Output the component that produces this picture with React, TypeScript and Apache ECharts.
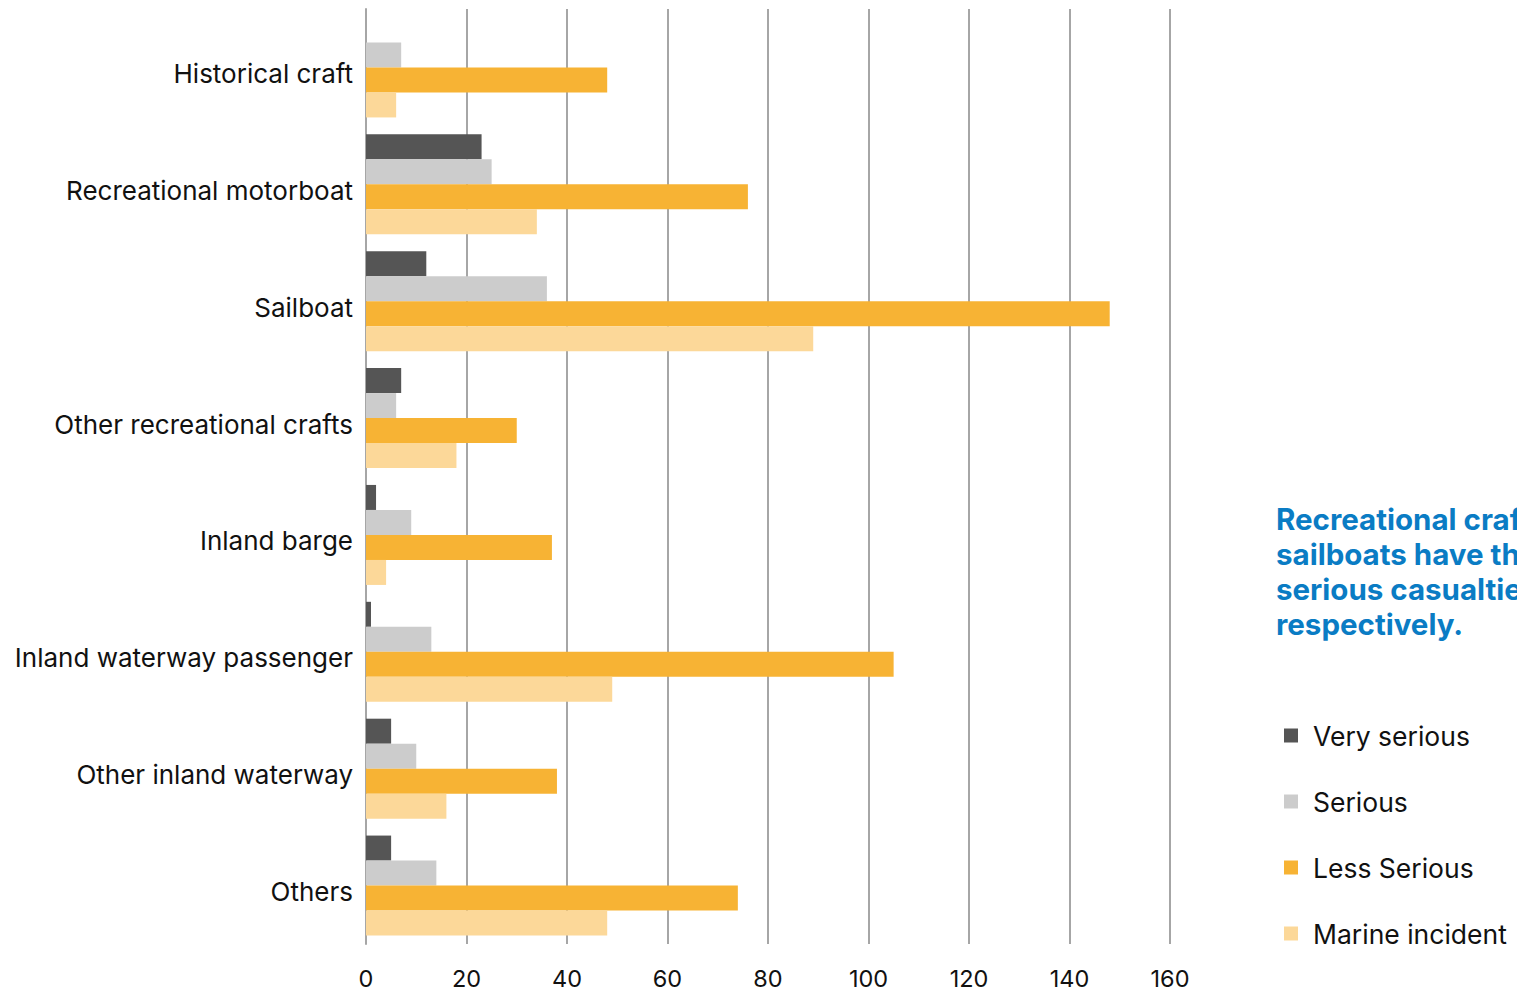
import React, { useEffect, useRef } from "react";
import * as echarts from "echarts";

const categories = [
  "Historical craft",
  "Recreational motorboat",
  "Sailboat",
  "Other recreational crafts",
  "Inland barge",
  "Inland waterway passenger",
  "Other inland waterway",
  "Others",
];
const verySerious = [0, 23, 12, 7, 2, 1, 5, 5];
const serious = [7, 25, 36, 6, 9, 13, 10, 14];
const lessSerious = [48, 76, 148, 30, 37, 105, 38, 74];
const marineIncident = [6, 34, 89, 18, 4, 49, 16, 48];
const seriesNames = ["Very serious", "Serious", "Less Serious", "Marine incident"];
const seriesColors = ["#555555", "#CCCCCC", "#F7B334", "#FCD899"];
const noteLines = [
  "Recreational crafts and",
  "sailboats have the most",
  "serious casualties,",
  "respectively.",
];

export default function App() {
  const ref = useRef<HTMLDivElement>(null);
  useEffect(() => {
    if (!ref.current) return;
    const chart = echarts.init(ref.current, undefined, { renderer: "svg" });
    const values = [verySerious, serious, lessSerious, marineIncident];
    chart.setOption({
      animation: false,
      grid: { left: 366, right: 347, top: 9, bottom: 48, containLabel: false },
      xAxis: {
        type: "value",
        min: 0,
        max: 160,
        interval: 20,
        axisLine: { show: false },
        axisTick: { show: false },
        splitLine: { show: true, lineStyle: { color: "#A6A6A6", width: 2 } },
        axisLabel: {
          fontFamily: "Inter",
          fontSize: 23.5,
          color: "#111",
          margin: 22,
        },
      },
      yAxis: {
        type: "category",
        inverse: true,
        data: categories,
        axisLine: { show: true, lineStyle: { color: "#A6A6A6", width: 2 } },
        axisTick: { show: false },
        axisLabel: {
          margin: 13,
          formatter: "{a|{value}}",
          rich: {
            a: {
              fontFamily: "Inter",
              fontSize: 26,
              color: "#111",
              padding: [12, 0, 0, 0],
            },
          },
        },
      },
      legend: {
        orient: "vertical",
        left: 1284,
        top: 722,
        padding: 0,
        itemWidth: 14,
        itemHeight: 14,
        itemGap: 39,
        icon: "rect",
        data: seriesNames,
        textStyle: {
          fontFamily: "Inter",
          fontSize: 26.5,
          color: "#111",
          padding: [0, 0, 0, 10],
        },
      },
      graphic: [
        {
          type: "text",
          left: 1276,
          top: 501,
          style: {
            text: noteLines.join("\n"),
            fontFamily: "Inter",
            fontWeight: "bold",
            fontSize: 29.5,
            lineHeight: 35,
            fill: "#0A7CC4",
          },
        },
      ],
      series: seriesNames.map((name, i) => ({
        name,
        type: "bar",
        data: values[i],
        barWidth: 25,
        barGap: "0%",
        itemStyle: { color: seriesColors[i] },
      })),
    });
    return () => chart.dispose();
  }, []);
  return (
    <div
      ref={ref}
      style={{
        position: "fixed",
        left: 0,
        top: 0,
        width: 1517,
        height: 992,
        overflow: "hidden",
        background: "#fff",
      }}
    />
  );
}
